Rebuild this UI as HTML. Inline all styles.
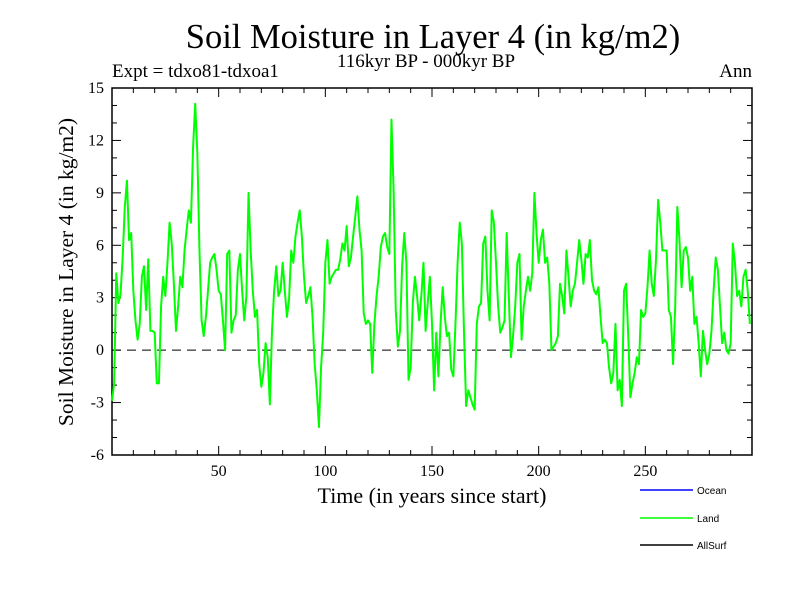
<!DOCTYPE html>
<html><head><meta charset="utf-8"><style>
body{margin:0;background:#fff}
svg text{font-family:"Liberation Serif",serif}
</style></head><body>
<svg id="chart" width="800" height="600" xmlns="http://www.w3.org/2000/svg">
<text x="433" y="48" font-size="34.5" text-anchor="middle">Soil Moisture in Layer 4 (in kg/m2)</text>
<text x="426" y="67" font-size="19" text-anchor="middle">116kyr BP - 000kyr BP</text>
<text x="112" y="77" font-size="19">Expt = tdxo81-tdxoa1</text>
<text x="752" y="77" font-size="19" text-anchor="end">Ann</text>
<text x="432" y="503" font-size="22" text-anchor="middle">Time (in years since start)</text>
<text transform="translate(73,272) rotate(-90)" font-size="21.5" text-anchor="middle">Soil Moisture in Layer 4 (in kg/m2)</text>
<g id="axes"></g>
<g id="series"></g>
<g id="legend">
<line x1="640" y1="490" x2="693" y2="490" stroke="#0000ff" stroke-width="1.5"/>
<text x="697" y="494" style="font-family:'Liberation Sans',sans-serif" font-size="10">Ocean</text>
<line x1="640" y1="518" x2="693" y2="518" stroke="#00ff00" stroke-width="1.5"/>
<text x="697" y="522" style="font-family:'Liberation Sans',sans-serif" font-size="10">Land</text>
<line x1="640" y1="545" x2="693" y2="545" stroke="#000" stroke-width="1.5"/>
<text x="697" y="549" style="font-family:'Liberation Sans',sans-serif" font-size="10">AllSurf</text>
</g>
</svg>
<script>
const yTicks=[15,12,9,6,3,0,-3,-6];
const xTicks=[50,100,150,200,250];
const landValues=[-2.9,-1.9,4.4,2.7,3.2,5.3,8.2,9.7,6.3,6.7,3.4,1.7,0.6,1.5,4.2,4.8,2.3,5.2,1.1,1.1,1.0,-1.9,-1.9,2.5,4.2,3.1,5.0,7.3,6.1,3.8,1.1,2.5,4.2,3.6,5.7,6.9,8.0,7.3,11.6,14.1,11.3,5.7,1.7,0.8,1.9,3.4,5.0,5.3,5.5,4.6,3.4,3.2,1.7,0.0,5.5,5.7,1.0,1.7,2.0,4.6,5.5,3.4,1.7,3.1,9.0,5.7,3.4,1.9,2.3,-0.8,-2.1,-1.3,0.4,-0.4,-3.1,1.1,3.4,4.8,3.1,3.4,5.0,3.4,1.9,2.9,5.7,5.0,6.5,7.3,8.0,6.5,4.2,2.7,3.1,3.6,1.9,-0.8,-2.3,-4.4,-1.0,1.0,5.0,6.3,3.8,4.2,4.4,4.6,4.6,5.2,6.1,5.7,7.1,4.8,5.3,6.5,7.6,8.8,6.9,5.7,2.1,1.5,1.7,1.5,-1.3,1.5,3.1,4.2,5.9,6.5,6.7,5.9,5.5,13.2,9.2,2.3,0.2,1.1,4.8,6.7,5.0,-1.7,-1.0,2.7,4.2,3.1,1.7,3.1,5.0,1.1,2.7,4.2,1.5,-2.3,1.0,-1.5,1.5,3.6,1.9,0.8,1.0,-1.1,-1.5,1.5,5.0,7.3,6.1,1.0,-3.2,-2.3,-2.7,-3.1,-3.4,1.5,2.5,2.7,6.1,6.5,3.4,1.7,8.0,7.3,5.0,2.5,1.0,1.3,1.7,6.7,3.1,-0.4,0.8,2.5,5.0,5.5,0.6,2.5,3.4,4.2,3.4,4.4,9.0,6.7,5.0,6.3,6.9,5.0,5.3,3.8,0.0,0.2,0.4,0.8,3.8,3.1,2.1,5.7,4.2,2.5,3.4,3.8,5.0,6.3,5.2,3.8,5.5,5.3,6.3,4.0,3.4,3.2,3.6,1.9,0.4,0.6,0.4,-1.0,-1.9,-1.3,1.5,-2.3,-1.7,-3.2,3.4,3.8,0.8,-2.7,-1.9,-1.3,-0.4,-0.8,2.3,1.9,2.1,3.6,5.7,3.8,3.1,5.2,8.6,7.3,5.7,5.7,5.7,2.3,1.9,-0.8,2.5,8.2,6.3,3.6,5.7,5.9,5.3,3.4,4.2,1.5,1.9,0.4,-1.5,1.1,0.0,-0.8,-0.2,1.1,3.4,5.3,4.6,2.5,0.4,1.0,0.0,-0.2,0.4,6.1,5.0,3.1,3.4,2.5,4.2,4.6,3.4,1.5];
const NS='http://www.w3.org/2000/svg';
const L=112,R=752,T=88,B=455,xMin=0,xMax=300,yMin=-6,yMax=15;
const sx=v=>L+(v-xMin)/(xMax-xMin)*(R-L);
const sy=v=>B-(v-yMin)/(yMax-yMin)*(B-T);
const axes=document.getElementById('axes');
function mk(tag,attrs,parent){const e=document.createElementNS(NS,tag);for(const k in attrs)e.setAttribute(k,attrs[k]);parent.appendChild(e);return e;}
const frame=mk('rect',{x:L,y:T,width:R-L,height:B-T,fill:'none',stroke:'#000','stroke-width':1.5},axes);


const zl=mk('line',{x1:L,x2:R,y1:sy(0),y2:sy(0),stroke:'#000','stroke-dasharray':'9,6','stroke-width':1},axes);


for(let v=yMin;v<=yMax;v++){const len=(v%3===0)?9:5;const y=sy(v);
mk('line',{x1:L,x2:L+len,y1:y,y2:y,stroke:'#000'},axes);mk('line',{x1:R-len,x2:R,y1:y,y2:y,stroke:'#000'},axes);}
for(let v=10;v<xMax;v+=10){const len=(v%50===0)?9:5;const x=sx(v);
mk('line',{x1:x,x2:x,y1:B-len,y2:B,stroke:'#000'},axes);mk('line',{x1:x,x2:x,y1:T,y2:T+len,stroke:'#000'},axes);}
yTicks.forEach(v=>{const t=mk('text',{x:L-8,y:sy(v)+5,'font-size':16,'text-anchor':'end'},axes);t.textContent=v;

});
xTicks.forEach(v=>{const t=mk('text',{x:sx(v),y:B+21,'font-size':16,'text-anchor':'middle'},axes);t.textContent=v;

});
const pts=landValues.map((v,i)=>sx(i)+','+sy(v)).join(' ');
const pl=mk('polyline',{points:pts,fill:'none',stroke:'#00ff00','stroke-width':2,'stroke-linejoin':'round'},document.getElementById('series'));


</script>
</body></html>
